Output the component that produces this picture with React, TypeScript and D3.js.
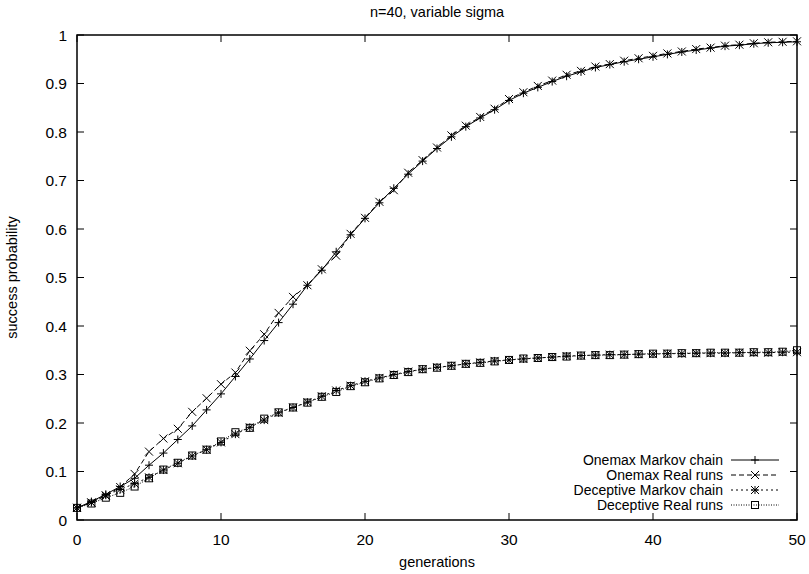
import React from "react";
import * as d3 from "d3";

const generations = d3.range(0, 51);

const onemaxMarkov = [
  0.025, 0.038, 0.053, 0.069, 0.086, 0.113, 0.138, 0.166, 0.194, 0.227,
  0.26, 0.296, 0.332, 0.37, 0.407, 0.445, 0.484, 0.515, 0.553, 0.588,
  0.622, 0.654, 0.684, 0.713, 0.74, 0.766, 0.79, 0.811, 0.829, 0.846,
  0.865, 0.88, 0.892, 0.904, 0.915, 0.924, 0.933, 0.939, 0.945, 0.95,
  0.955, 0.96, 0.965, 0.969, 0.973, 0.977, 0.979, 0.982, 0.984, 0.985, 0.986,
];

const onemaxReal = [
  0.025, 0.036, 0.05, 0.068, 0.095, 0.141, 0.168, 0.188, 0.223, 0.251,
  0.28, 0.304, 0.349, 0.383, 0.427, 0.46, 0.484, 0.517, 0.545, 0.59,
  0.623, 0.656, 0.68, 0.716, 0.742, 0.768, 0.793, 0.813, 0.831, 0.848,
  0.868, 0.882, 0.895, 0.906, 0.918, 0.926, 0.935, 0.94, 0.947, 0.952,
  0.957, 0.962, 0.966, 0.971, 0.974, 0.978, 0.98, 0.983, 0.985, 0.986, 0.987,
];

const deceptiveMarkov = [
  0.025, 0.036, 0.051, 0.063, 0.075, 0.088, 0.103, 0.117, 0.132, 0.145,
  0.16, 0.177, 0.191, 0.206, 0.221, 0.232, 0.243, 0.255, 0.267, 0.277,
  0.286, 0.293, 0.3, 0.306, 0.311, 0.315, 0.318, 0.322, 0.325, 0.328,
  0.33, 0.332, 0.334, 0.336, 0.338, 0.339, 0.34, 0.341, 0.341, 0.342,
  0.342, 0.343, 0.343, 0.344, 0.344, 0.344, 0.345, 0.345, 0.345, 0.346, 0.346,
];

const deceptiveReal = [
  0.025, 0.034, 0.046, 0.056, 0.069, 0.086, 0.104, 0.118, 0.133, 0.145,
  0.162, 0.181, 0.19, 0.209, 0.222, 0.232, 0.242, 0.254, 0.264, 0.276,
  0.284, 0.292, 0.299, 0.305, 0.311, 0.314, 0.318, 0.322, 0.324, 0.327,
  0.33, 0.333, 0.334, 0.336, 0.337, 0.339, 0.34, 0.34, 0.341, 0.342,
  0.343, 0.343, 0.344, 0.344, 0.345, 0.345, 0.345, 0.346, 0.346, 0.347, 0.35,
];

const xTicks = [0, 10, 20, 30, 40, 50];
const yTicks = [0, 0.1, 0.2, 0.3, 0.4, 0.5, 0.6, 0.7, 0.8, 0.9, 1];

const seriesNames = [
  "Onemax Markov chain",
  "Onemax Real runs",
  "Deceptive Markov chain",
  "Deceptive Real runs",
];

const W = 809;
const H = 574;
const M = { left: 77, right: 797, top: 35, bottom: 520 };
const FONT = "'Liberation Sans', Arial, Helvetica, sans-serif";

type MarkerKind = "plus" | "cross" | "star" | "square";

function Marker({ kind, x, y }: { kind: MarkerKind; x: number; y: number }) {
  const s = 4;
  const sw = 1;
  if (kind === "plus") {
    return (
      <path
        d={`M${x - s},${y}H${x + s}M${x},${y - s}V${y + s}`}
        stroke="#000"
        strokeWidth={sw}
        fill="none"
      />
    );
  }
  if (kind === "cross") {
    return (
      <path
        d={`M${x - s},${y - s}L${x + s},${y + s}M${x - s},${y + s}L${x + s},${y - s}`}
        stroke="#000"
        strokeWidth={sw}
        fill="none"
      />
    );
  }
  if (kind === "star") {
    return (
      <path
        d={`M${x - s},${y}H${x + s}M${x},${y - s}V${y + s}M${x - s},${y - s}L${x + s},${y + s}M${x - s},${y + s}L${x + s},${y - s}`}
        stroke="#000"
        strokeWidth={sw}
        fill="none"
      />
    );
  }
  return (
    <rect
      x={x - 3.5}
      y={y - 3.5}
      width={7}
      height={7}
      stroke="#000"
      strokeWidth={sw}
      fill="none"
    />
  );
}

export default function App() {
  const x = d3.scaleLinear().domain([0, 50]).range([M.left, M.right]);
  const y = d3.scaleLinear().domain([0, 1]).range([M.bottom, M.top]);

  const series: { name: string; values: number[]; dash: string; marker: MarkerKind }[] = [
    { name: seriesNames[0], values: onemaxMarkov, dash: "none", marker: "plus" },
    { name: seriesNames[1], values: onemaxReal, dash: "5,3", marker: "cross" },
    { name: seriesNames[2], values: deceptiveMarkov, dash: "2,3", marker: "star" },
    { name: seriesNames[3], values: deceptiveReal, dash: "1,1.5", marker: "square" },
  ];

  const line = d3
    .line<number>()
    .x((_, i) => x(generations[i]))
    .y((d) => y(d));

  const tickLen = 7;
  const legendY0 = 460;
  const legendDy = 15;
  const legendTextX = 723;
  const legendLineX0 = 731;
  const legendLineX1 = 779;

  return (
    <svg
      width={W}
      height={H}
      style={{ position: "absolute", left: 0, top: 0, background: "#fff" }}
      fontFamily={FONT}
    >
      <rect x={0} y={0} width={W} height={H} fill="#fff" />
      <text x={437} y={17} textAnchor="middle" fontSize={14.5}>
        n=40, variable sigma
      </text>

      {/* ticks */}
      {yTicks.map((t) => (
        <g key={"y" + t}>
          <line x1={M.left} x2={M.left + tickLen} y1={y(t)} y2={y(t)} stroke="#000" strokeWidth={1} />
          <line x1={M.right} x2={M.right - tickLen} y1={y(t)} y2={y(t)} stroke="#000" strokeWidth={1} />
          <text x={67} y={y(t)} dy="0.36em" textAnchor="end" fontSize={15.5}>
            {d3.format("")(t)}
          </text>
        </g>
      ))}
      {xTicks.map((t) => (
        <g key={"x" + t}>
          <line x1={x(t)} x2={x(t)} y1={M.bottom} y2={M.bottom - tickLen} stroke="#000" strokeWidth={1} />
          <line x1={x(t)} x2={x(t)} y1={M.top} y2={M.top + tickLen} stroke="#000" strokeWidth={1} />
          <text x={x(t)} y={545} textAnchor="middle" fontSize={15.5}>
            {t}
          </text>
        </g>
      ))}

      <text x={437} y={567} textAnchor="middle" fontSize={14.5}>
        generations
      </text>
      <text
        transform={`translate(17,${(M.top + M.bottom) / 2}) rotate(-90)`}
        textAnchor="middle"
        fontSize={14.5}
      >
        success probability
      </text>

      {/* series */}
      {series.map((s) => (
        <g key={s.name}>
          <path
            d={line(s.values) || ""}
            fill="none"
            stroke="#000"
            strokeWidth={1}
            strokeDasharray={s.dash}
          />
          {s.values.map((v, i) => (
            <Marker key={i} kind={s.marker} x={x(generations[i])} y={y(v)} />
          ))}
        </g>
      ))}

      {/* legend */}
      {series.map((s, i) => {
        const ly = legendY0 + i * legendDy;
        return (
          <g key={"leg" + s.name}>
            <text x={legendTextX} y={ly} dy="0.35em" textAnchor="end" fontSize={14}>
              {s.name}
            </text>
            <line
              x1={legendLineX0}
              x2={legendLineX1}
              y1={ly}
              y2={ly}
              stroke="#000"
              strokeWidth={1}
              strokeDasharray={s.dash}
            />
            <Marker kind={s.marker} x={(legendLineX0 + legendLineX1) / 2} y={ly} />
          </g>
        );
      })}

      {/* frame */}
      <rect
        x={M.left}
        y={M.top}
        width={M.right - M.left}
        height={M.bottom - M.top}
        fill="none"
        stroke="#000"
        strokeWidth={1.5}
      />
    </svg>
  );
}
